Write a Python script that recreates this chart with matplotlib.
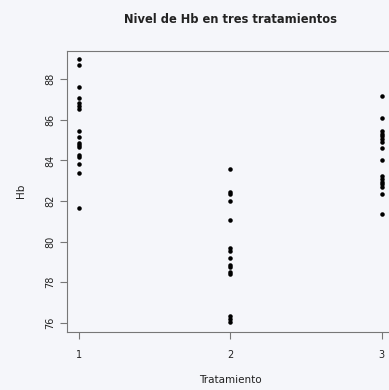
import matplotlib
matplotlib.use("Agg")
import matplotlib.pyplot as plt

tratamiento_1 = [88.98, 88.70, 87.61, 87.07, 86.82, 86.69, 86.54, 85.43, 85.15,
                 84.86, 84.76, 84.66, 84.28, 84.17, 83.84, 83.38, 81.66]
tratamiento_2 = [83.59, 82.45, 82.35, 81.99, 81.05, 79.66, 79.56, 79.20, 78.87,
                 78.76, 78.50, 78.39, 76.33, 76.21, 76.04]
tratamiento_3 = [87.15, 86.08, 85.43, 85.31, 85.18, 85.05, 84.92, 84.62, 84.00,
                 83.21, 83.10, 82.96, 82.86, 82.69, 82.36, 81.38]
grupos = [1, 2, 3]
yticks = [76, 78, 80, 82, 84, 86, 88]

bg = "#f5f6fa"
gris = "#777777"
texto = "#222222"

fig = plt.figure(figsize=(3.89, 3.90), dpi=100, facecolor=bg)
ax = fig.add_axes([0.1722, 0.1495, 0.8406, 0.7205], facecolor=bg)

for g, vals in zip(grupos, [tratamiento_1, tratamiento_2, tratamiento_3]):
    ax.plot([g] * len(vals), vals, "k.", markersize=6.5, markeredgewidth=0)

ax.set_xlim(0.92, 3.08)
ax.set_ylim(75.56, 89.405)
ax.set_xticks(grupos)
ax.set_yticks(yticks)
for label in ax.get_yticklabels():
    label.set_rotation(90)
    label.set_va("center")

for s in ax.spines.values():
    s.set_color(gris)
    s.set_linewidth(0.8)
ax.tick_params(colors=gris, labelcolor=texto, labelsize=7, length=5, width=0.8)
ax.tick_params(axis="x", pad=8)

ax.set_xlabel("Tratamiento", fontsize=7.5, color=texto, labelpad=11)
ax.set_ylabel("Hb", fontsize=7.5, color=texto, labelpad=14)
ax.set_title("Nivel de Hb en tres tratamientos", fontsize=8.3, fontweight="bold",
             color=texto, pad=20)

fig.savefig("out.png", dpi=100, facecolor=bg)
